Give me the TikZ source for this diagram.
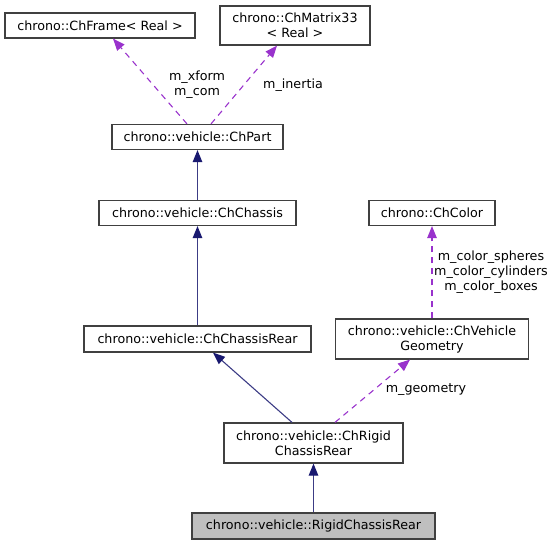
\documentclass[tikz,border=0pt]{standalone}
\usepackage{fontspec}
\setmainfont{DejaVu Sans}
\usetikzlibrary{arrows.meta,calc}
\definecolor{edgeblue}{RGB}{25,25,112}
\definecolor{edgepurple}{RGB}{153,50,204}
\definecolor{boxborder}{RGB}{64,64,64}
\definecolor{grayfill}{RGB}{191,191,191}
\tikzset{
  cls/.style={draw=boxborder, line width=1.2pt, fill=white, inner sep=0pt, align=center,
    font=\fontsize{12.7}{15}\selectfont},
  inh/.style={draw=edgeblue!85, line width=1.1pt,
    -{Triangle[length=12pt,width=9.5pt,color=edgeblue]}},
  usage/.style={draw=edgepurple, line width=1.1pt, dash pattern=on 6pt off 5pt,
    -{Triangle[length=12pt,width=9.5pt]}},
  lbl/.style={inner sep=0pt, align=center, font=\fontsize{12.7}{15}\selectfont}
}
\begin{document}
\begin{tikzpicture}[x=1pt,y=-1pt]
\useasboundingbox (0,0) rectangle (557,545);
\node[cls, minimum width=190pt, minimum height=25pt] (frame) at (100,25.5) {chrono::ChFrame< Real >};
\node[cls, minimum width=150pt, minimum height=39pt] (matrix) at (295,25.5) {chrono::ChMatrix33\\< Real >};
\node[cls, minimum width=171pt, minimum height=25pt] (part) at (197.5,137) {chrono::vehicle::ChPart};
\node[cls, minimum width=197pt, minimum height=25pt] (chassis) at (197.5,213) {chrono::vehicle::ChChassis};
\node[cls, minimum width=126pt, minimum height=25pt] (color) at (432,213) {chrono::ChColor};
\node[cls, minimum width=227pt, minimum height=26pt] (rear) at (197.5,339) {chrono::vehicle::ChChassisRear};
\node[cls, minimum width=193pt, minimum height=40pt] (geom) at (432,339) {chrono::vehicle::ChVehicle\\Geometry};
\node[cls, minimum width=179pt, minimum height=40pt] (rigid) at (313.5,443) {chrono::vehicle::ChRigid\\ChassisRear};
\node[cls, fill=grayfill, minimum width=243pt, minimum height=26pt] (main) at (313.5,526) {chrono::vehicle::RigidChassisRear};

\draw[usage] ($(part.north)+(-10.5,0)$) -- ($(frame.south)+(13,0)$);
\draw[usage] ($(part.north)+(13.5,0)$) -- ($(matrix.south)+(-18,0)$);
\draw[inh] (chassis.north) -- (part.south);
\draw[inh] (rear.north) -- (chassis.south);
\draw[usage] (geom.north) -- (color.south);
\draw[inh] ($(rigid.north)+(-21.5,0)$) -- ($(rear.south)+(15.5,0)$);
\draw[usage] ($(rigid.north)+(21.5,0)$) -- ($(geom.south)+(-22,0)$);
\draw[inh] (main.north) -- (rigid.south);

\node[lbl] (l1) at (197,84.5) {m\_xform\\m\_com};
\node[lbl] (l2) at (293,85) {m\_inertia};
\node[lbl] (l3) at (491,272) {m\_color\_spheres\\m\_color\_cylinders\\m\_color\_boxes};
\node[lbl] (l4) at (426,390) {m\_geometry};
\end{tikzpicture}
\end{document}
